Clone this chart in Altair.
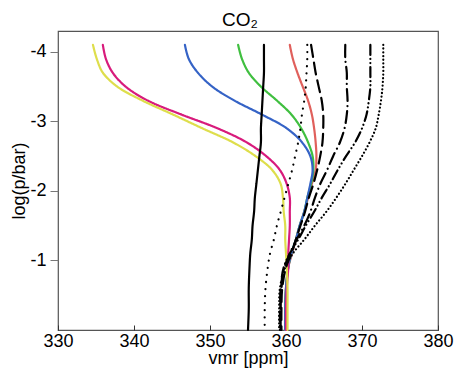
import altair as alt
import pandas as pd

lp = [-4.1, -3.9, -3.7, -3.5, -3.3, -3.1, -2.9, -2.7, -2.5, -2.3, -2.1, -1.9,
      -1.7, -1.5, -1.3, -1.1, -0.9, -0.6, -0.3, 0.0]

red = [360.5, 360.9, 361.5, 362.2, 362.9, 363.4, 363.7, 363.9, 364.0, 363.9, 363.4, 362.9,
       362.4, 361.8, 361.3, 360.8, 360.3, 360.0, 359.9, 359.9]
green = [353.7, 354.2, 355.1, 356.7, 358.8, 360.7, 362.0, 362.9, 363.5, 363.6, 363.3, 362.8,
         362.4, 361.8, 361.3, 360.7, 360.3, 360.0, 359.9, 359.9]
blue = [346.7, 347.2, 348.4, 350.3, 353.2, 356.8, 360.1, 362.1, 363.2, 363.5, 363.2, 362.8,
        362.4, 361.8, 361.3, 360.7, 360.3, 360.0, 359.9, 359.9]
magenta = [335.9, 336.3, 337.2, 338.9, 341.8, 346.2, 351.0, 354.8, 357.4, 359.2, 360.1, 360.5,
           360.5, 360.5, 360.4, 360.3, 360.3, 360.1, 360.0, 360.0]
yellow = [334.6, 335.1, 335.9, 337.8, 341.1, 345.1, 349.0, 353.0, 356.0, 358.2, 359.3, 359.6,
          359.7, 359.9, 359.9, 360.0, 360.1, 360.2, 360.2, 360.2]
black_solid = [357.1, 357.1, 357.1, 357.0, 356.9, 356.8, 356.7, 356.7, 356.5, 356.3, 356.1, 355.9,
               355.8, 355.6, 355.5, 355.3, 355.2, 355.1, 355.1, 355.0]
black_dotted = [362.8, 362.8, 362.7, 362.6, 362.4, 362.1, 361.9, 361.6, 361.2, 360.8, 360.3, 359.8,
                359.3, 358.8, 358.4, 357.9, 357.6, 357.3, 357.2, 357.2]
black_longdash = [363.3, 363.6, 363.9, 364.3, 364.7, 364.9, 364.9, 364.8, 364.5, 364.1, 363.6, 363.0,
                  362.5, 361.9, 361.3, 360.7, 360.0, 359.5, 359.4, 359.4]
black_dashdot = [367.8, 367.8, 368.0, 368.0, 368.1, 368.0, 367.7, 367.1, 366.2, 365.4, 364.5, 363.8,
                 363.2, 362.4, 361.4, 360.5, 359.8, 359.4, 359.3, 359.3]
black_dashdotdot = [371.1, 371.1, 371.1, 371.1, 370.9, 370.6, 370.0, 369.1, 367.9, 366.8, 365.8, 364.7,
                    363.7, 362.6, 361.6, 360.5, 359.7, 359.3, 359.2, 359.2]
black_densedot = [372.8, 372.8, 372.8, 372.7, 372.5, 372.2, 371.8, 371.0, 370.0, 368.9, 367.8, 366.6,
                  365.3, 363.8, 362.4, 360.9, 359.9, 359.2, 359.1, 359.1]

series = {
    "a_red": red, "b_green": green, "c_blue": blue, "d_magenta": magenta, "e_yellow": yellow,
    "f_black_solid": black_solid, "g_black_dotted": black_dotted,
    "h_black_longdash": black_longdash, "i_black_dashdot": black_dashdot,
    "j_black_dashdotdot": black_dashdotdot, "k_black_densedot": black_densedot,
}
names = list(series.keys())
colors = ["#e0605c", "#40bf40", "#3563c6", "#d81b7c", "#dede4c",
          "#000000", "#000000", "#000000", "#000000", "#000000", "#000000"]
dashes = [[1, 0], [1, 0], [1, 0], [1, 0], [1, 0],
          [1, 0], [0.1, 7], [12, 6], [12, 5, 0.1, 5], [10, 4, 0.1, 4, 0.1, 4], [0.1, 3.6]]
widths = [2.2, 2.2, 2.2, 2.2, 2.2, 2.2, 2.8, 2.8, 2.8, 2.8, 3.6]

x_ticks = [330, 340, 350, 360, 370, 380]
y_ticks = [-4, -3, -2, -1]

rows = []
for n in names:
    for i, (v, p) in enumerate(zip(series[n], lp)):
        rows.append({"series": n, "vmr": v, "lp": p, "idx": i})
df = pd.DataFrame(rows)

FONT = "Liberation Sans"
W, H = 380, 299

xscale = alt.Scale(domain=[330, 380], nice=False, zero=False)
yscale = alt.Scale(domain=[-4.3, 0], reverse=True, nice=False, zero=False)

lines = alt.Chart(df).mark_line(strokeCap="round", interpolate="catmull-rom").encode(
    x=alt.X("vmr:Q", scale=xscale,
            axis=alt.Axis(title="vmr [ppm]", values=x_ticks, ticks=False, domain=False,
                          grid=False, labelFontSize=18, titleFontSize=18, labelFont=FONT,
                          titleFont=FONT, titleFontWeight="normal", labelColor="#000",
                          titleColor="#000", labelPadding=2, titleY=33,
                          titleBaseline="alphabetic", labelFlush=False)),
    y=alt.Y("lp:Q", scale=yscale,
            axis=alt.Axis(title="log(p/bar)", values=y_ticks, ticks=True, tickSize=8,
                          tickColor="#777", domain=False, grid=False, labelFontSize=18,
                          titleFontSize=18, labelFont=FONT, titleFont=FONT,
                          titleFontWeight="normal", labelColor="#000", titleColor="#000",
                          labelPadding=4, titleX=-34, titleBaseline="alphabetic",
                          labelExpr="'' + datum.value")),
    color=alt.Color("series:N", scale=alt.Scale(domain=names, range=colors), legend=None),
    strokeDash=alt.StrokeDash("series:N", scale=alt.Scale(domain=names, range=dashes), legend=None),
    strokeWidth=alt.StrokeWidth("series:N", scale=alt.Scale(domain=names, range=widths), legend=None),
    order=alt.Order("idx:Q"),
)

inner_ticks = alt.Chart(df).mark_point(opacity=0).encode(
    x=alt.X("vmr:Q", scale=xscale,
            axis=alt.Axis(orient="top", offset=-H, values=x_ticks, labels=False, domain=False,
                          ticks=True, tickSize=5, tickColor="#333", grid=False, title=None)),
)

chart = alt.layer(lines, inner_ticks).resolve_axis(x="independent").properties(
    width=W, height=H,
    title=alt.TitleParams("CO₂", fontSize=19, font=FONT, fontWeight="normal", color="#000",
                          anchor="middle", offset=1, dx=-8),
    autosize=alt.AutoSizeParams(type="none"),
    padding={"left": 50, "top": 23, "right": 17, "bottom": 42},
).configure_view(stroke="#555", strokeWidth=1.2)

chart.save("out.html", embed_options={"renderer": "svg", "actions": False})
